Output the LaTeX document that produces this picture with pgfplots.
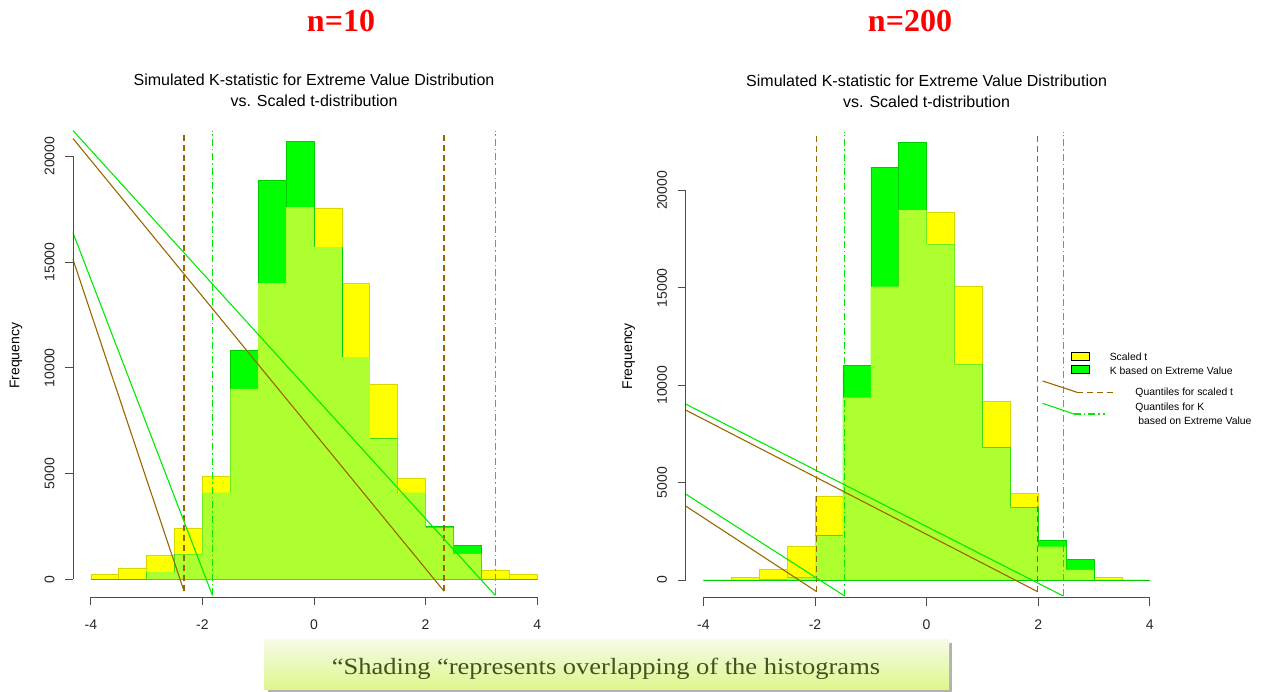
\documentclass[border=0pt]{standalone}
\usepackage{pgfplots}
\usepackage{pgfplotstable}
\pgfplotsset{compat=1.18}
\usepackage{fontspec}
\setmainfont{Liberation Sans}
\newfontfamily\timesfont{Liberation Serif}

\definecolor{tyellow}{RGB}{255,255,0}
\definecolor{tyedge}{RGB}{215,215,0}
\definecolor{kgreen}{RGB}{0,255,0}
\definecolor{kedge}{RGB}{0,205,0}
\definecolor{overlap}{RGB}{173,255,47}
\definecolor{qbrown}{RGB}{153,102,0}
\definecolor{qgreen}{RGB}{0,235,0}
\definecolor{captext}{RGB}{66,82,32}
\definecolor{captop}{RGB}{246,251,232}
\definecolor{capbot}{RGB}{222,246,140}

% bin left edge, scaled t count, K count, overlap (min of the two)
\pgfplotstableread{
x t k o
-4.0 236 0 0
-3.5 551 0 0
-3.0 1134 346 346
-2.5 2410 1181 1181
-2.0 4883 4095 4095
-1.5 9009 10820 9009
-1.0 14002 18853 14002
-0.5 17593 20696 17593
0.0 17561 15703 15703
0.5 13986 10505 10505
1.0 9214 6662 6662
1.5 4804 4095 4095
2.0 2441 2520 2441
2.5 1213 1607 1213
3.0 457 30 30
3.5 268 0 0
4.0 0 0 0
}\histten

\pgfplotstableread{
x t k o
-4.0 0 0 0
-3.5 120 0 0
-3.0 548 30 30
-2.5 1711 137 137
-2.0 4312 2276 2276
-1.5 9359 11019 9359
-1.0 15057 21165 15057
-0.5 18992 22483 18992
0.0 18872 17230 17230
0.5 15091 11070 11070
1.0 9188 6793 6793
1.5 4449 3713 3713
2.0 1711 2036 1711
2.5 513 1061 513
3.0 120 0 0
3.5 0 0 0
4.0 0 0 0
}\histtwohundred

\pgfplotsset{
  rpanel/.style={
    scale only axis, width=482pt, height=473pt,
    xmin=-4.32, xmax=4.32,
    axis x line*=bottom, axis y line*=left,
    axis line style={draw=none},
    xtick={-4,-2,0,2,4}, xticklabels={-4,-2,0,2,4},
    ytick={0,5000,10000,15000,20000},
    yticklabels={0,5000,10000,15000,20000},
    scaled y ticks=false, scaled x ticks=false,
    tick align=outside, major tick length=8pt,
    tick style={black!70, line width=0.8pt},
    ticklabel style={font=\fontsize{14}{14}\selectfont, text=black!85},
    yticklabel style={rotate=90, anchor=south},
    xticklabel shift=11pt, yticklabel shift=7pt,
    clip=false,
    ylabel={Frequency},
    ylabel style={at={(rel axis cs:-0.118,0.51)}, anchor=center,
      font=\fontsize{14}{14}\selectfont},
  },
  tbar/.style={ybar interval, fill=tyellow, draw=tyedge, line width=0.6pt},
  kbar/.style={ybar interval, fill=kgreen, draw=kedge, line width=0.6pt},
  obar/.style={ybar interval, fill=overlap, draw=none},
  qt/.style={qbrown, line width=1.1pt},
  qk/.style={qgreen, line width=1.1pt},
  qtv/.style={qbrown, line width=1.2pt, dash pattern=on 6pt off 4pt},
  qkv/.style={qgreen, line width=1.2pt, dash pattern=on 7pt off 3pt on 1.5pt off 3pt},
}

\newcommand{\paneltitle}{%
  \node[anchor=base, font=\fontsize{16}{16}\selectfont]
    at (rel axis cs:0.5,1) [yshift=38pt] {Simulated K-statistic for Extreme Value Distribution};
  \node[anchor=base, font=\fontsize{16}{16}\selectfont]
    at (rel axis cs:0.5,1) [yshift=17pt] {vs. Scaled t-distribution};
}

\begin{document}
\begin{tikzpicture}
\useasboundingbox (0,0) rectangle (1267pt,-692pt);

% ---------- n = 10 ----------
\node[font=\timesfont\bfseries\fontsize{32}{32}\selectfont, text=red] at (341pt,-21pt) {n=10};
\begin{axis}[rpanel, at={(73pt,-597pt)}, anchor=south west, ymin=-828, ymax=21524]
  \addplot[tbar] table[x=x, y=t] {\histten};
  \addplot[kbar] table[x=x, y=k] {\histten};
  \addplot[obar] table[x=x, y=o] {\histten};
  % quantile markers
  \addplot[qtv] coordinates {(-2.33,-551) (-2.33,21184)};
  \addplot[qtv] coordinates {(2.33,-551) (2.33,21184)};
  \addplot[qkv] coordinates {(-1.82,-756) (-1.82,21184)};
  \addplot[qkv] coordinates {(3.25,-756) (3.25,21184)};
  % legend leader lines
  \addplot[qk] coordinates {(-4.32,21215) (3.25,-756)};
  \addplot[qt] coordinates {(-4.32,20837) (2.33,-551)};
  \addplot[qk] coordinates {(-4.32,16380) (-1.82,-756)};
  \addplot[qt] coordinates {(-4.32,15120) (-2.33,-551)};
  % axis lines spanning the tick range
  \draw[black!70, line width=0.8pt] (axis cs:-4,-828) -- (axis cs:4,-828);
  \draw[black!70, line width=0.8pt] (axis cs:-4.32,0) -- (axis cs:-4.32,20000);
  \paneltitle
\end{axis}

% ---------- n = 200 ----------
\node[font=\timesfont\bfseries\fontsize{32}{32}\selectfont, text=red] at (910pt,-21pt) {n=200};
\begin{axis}[rpanel, at={(685.6pt,-597.5pt)}, anchor=south west, ymin=-899, ymax=23382]
  \addplot[tbar] table[x=x, y=t] {\histtwohundred};
  \addplot[kbar] table[x=x, y=k] {\histtwohundred};
  \addplot[obar] table[x=x, y=o] {\histtwohundred};
  \addplot[qtv] coordinates {(-1.97,-599) (-1.97,23013)};
  \addplot[qtv] coordinates {(1.99,-599) (1.99,23013)};
  \addplot[qkv] coordinates {(-1.47,-821) (-1.47,23013)};
  \addplot[qkv] coordinates {(2.45,-821) (2.45,23013)};
  \addplot[qk] coordinates {(-4.32,9034) (2.45,-821)};
  \addplot[qt] coordinates {(-4.32,8726) (1.99,-599)};
  \addplot[qk] coordinates {(-4.32,4414) (-1.47,-821)};
  \addplot[qt] coordinates {(-4.32,3798) (-1.97,-599)};
  % legend
  \addplot[qt] coordinates {(2.08,10215) (2.70,9633)};
  \addplot[qtv] coordinates {(2.70,9633) (3.34,9633)};
  \addplot[qk] coordinates {(2.08,9068) (2.64,8521)};
  \addplot[qkv] coordinates {(2.64,8521) (3.20,8521)};
  \draw[black, fill=tyellow, line width=0.7pt] (axis cs:2.60,11254) rectangle (axis cs:2.92,11665);
  \draw[black, fill=kgreen, line width=0.7pt] (axis cs:2.60,10586) rectangle (axis cs:2.92,10997);
  \begin{scope}[font=\fontsize{10.4}{10.4}\selectfont]
    \node[anchor=west, inner sep=0pt] at (axis cs:3.28,11460) {Scaled t};
    \node[anchor=west, inner sep=0pt] at (axis cs:3.28,10740) {K based on Extreme Value};
    \node[anchor=west, inner sep=0pt] at (axis cs:3.74,9609) {Quantiles for scaled t};
    \node[anchor=west, inner sep=0pt] at (axis cs:3.74,8839) {Quantiles for K};
    \node[anchor=west, inner sep=0pt] at (axis cs:3.74,8171) {\ based on Extreme Value};
  \end{scope}
  \draw[black!70, line width=0.8pt] (axis cs:-4,-899) -- (axis cs:4,-899);
  \draw[black!70, line width=0.8pt] (axis cs:-4.32,0) -- (axis cs:-4.32,20000);
  \paneltitle
\end{axis}

% ---------- caption ----------
\fill[black!30] (268pt,-643pt) rectangle (952pt,-692pt);
\shade[top color=captop, bottom color=capbot] (264pt,-639pt) rectangle (949pt,-689pt);
\node[font=\timesfont\fontsize{26.5}{26.5}\selectfont, text=captext, anchor=base]
  at (606pt,-674pt) {\scalebox{1}[0.88]{“Shading “represents overlapping of the histograms}};
\end{tikzpicture}
\end{document}
